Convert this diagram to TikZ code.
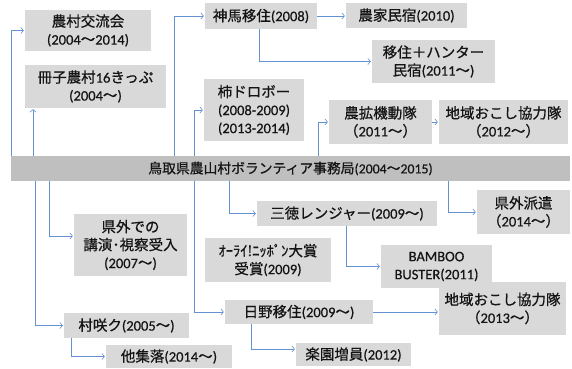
\documentclass[tikz,border=0pt]{standalone}
\usepackage{fontspec}
\setmainfont{Noto Sans CJK JP}[AutoFakeBold=0.7]
\newfontfamily\latf{Carlito}[AutoFakeBold=0.5]
\newcommand\lt[1]{{\latf #1}}
\usetikzlibrary{arrows.meta}
\definecolor{boxgray}{RGB}{217,217,217}
\definecolor{bargray}{RGB}{191,191,191}
\definecolor{linkblue}{RGB}{100,145,210}
\definecolor{txt}{RGB}{20,20,20}
\tikzset{
  box/.style={fill=boxgray, draw=none, inner sep=0pt, align=center, text=txt,
    font=\fontsize{14.5}{18}\selectfont\bfseries},
  bar/.style={fill=bargray, draw=none, inner sep=0pt, align=center, text=txt,
    font=\fontsize{13.8}{18}\selectfont\bfseries},
  con/.style={draw=linkblue, line width=0.8pt,
    -{Straight Barb[length=2.5pt,width=6pt,line width=0.6pt]}, shorten >=1pt}
}
\begin{document}
\begin{tikzpicture}[x=1pt,y=-1pt]
\useasboundingbox (0,0) rectangle (572,368);
% main bar
\node[bar, minimum width=559, minimum height=25] (bar) at (290.5,168.5)
  {鳥取県農山村ボランティア事務局\lt{(2004}～\lt{2015)}};
% boxes
\node[box, minimum width=126, minimum height=41] (A) at (88,30.5)
  {農村交流会\\\lt{(2004}～\lt{2014)}};
\node[box, minimum width=141, minimum height=43] (B) at (95.5,86.5)
  {冊子農村\lt{16}きっぷ\\\lt{(2004}～\lt{)}};
\node[box, minimum width=112, minimum height=26] (C) at (261,16)
  {神馬移住\lt{(2008)}};
\node[box, minimum width=121, minimum height=25] (D) at (406.5,15.5)
  {農家民宿\lt{(2010)}};
\node[box, minimum width=123, minimum height=43] (E) at (433.5,61.5)
  {移住＋ハンター\\民宿\lt{(2011}～\lt{)}};
\node[box, minimum width=100, minimum height=62] (F) at (254,110)
  {柿ドロボー\\\lt{(2008-2009)}\\\lt{(2013-2014)}};
\node[box, minimum width=103, minimum height=44] (G) at (380.5,122)
  {農拡機動隊\\（\lt{2011}～）};
\node[box, minimum width=129, minimum height=44] (H) at (503.5,122)
  {地域おこし協力隊\\（\lt{2012}～）};
\node[box, minimum width=113, minimum height=62] (I) at (130.5,245)
  {県外での\\講演･視察受入\\\lt{(2007}～\lt{)}};
\node[box, minimum width=180, minimum height=25] (J) at (347,213.5)
  {三徳レンジャー\lt{(2009}～\lt{)}};
\node[box, minimum width=93, minimum height=44] (K) at (523.5,212)
  {県外派遣\\（\lt{2014}～）};
\node[box, minimum width=126, minimum height=44] (L) at (268,260)
  {ｵｰﾗｲ!ﾆｯﾎﾟﾝ大賞\\受賞\lt{(2009)}};
\node[box, minimum width=111, minimum height=43] (M) at (436.5,266.5)
  {\lt{BAMBOO}\\\lt{BUSTER(2011)}};
\node[box, minimum width=148, minimum height=24] (N) at (299,312)
  {日野移住\lt{(2009}～\lt{)}};
\node[box, minimum width=127, minimum height=53] (O) at (502.5,308.5)
  {地域おこし協力隊\\（\lt{2013}～）};
\node[box, minimum width=125, minimum height=25] (P) at (126.5,325.5)
  {村咲ク\lt{(2005}～\lt{)}};
\node[box, minimum width=126, minimum height=23] (Q) at (169,356.5)
  {他集落\lt{(2014}～\lt{)}};
\node[box, minimum width=115, minimum height=23] (R) at (353.5,354.5)
  {楽園増員\lt{(2012)}};
% bend coordinates
\coordinate (b1) at (33,0);
\coordinate (c1) at (174,0);
\coordinate (f1) at (194,0);
\coordinate (g1) at (318,0);
\coordinate (e1) at (259,0);
\coordinate (p1) at (35,0);
\coordinate (i1) at (49,236);
\coordinate (j1) at (229,0);
\coordinate (k1) at (448,0);
\coordinate (m1) at (346,0);
\coordinate (r1) at (251,349);
\coordinate (q1) at (71,0);
% connectors above the bar
\draw[con] ([xshift=1pt]bar.north west) |- (A.west);
\draw[con] (b1 |- bar.north) -- (b1 |- B.south);
\draw[con] (c1 |- bar.north) |- (C.west);
\draw[con] (f1 |- bar.north) |- (F.west);
\draw[con] (g1 |- bar.north) |- (G.west);
\draw[con] (G.east) -- (H.west);
\draw[con] (C.east) -- (D.west |- C.east);
\draw[con] (e1 |- C.south) |- (E.west);
% connectors below the bar
\draw[con] (p1 |- bar.south) |- (P.west);
\draw[con] (i1 |- bar.south) |- (I.west |- i1);
\draw[con] (j1 |- bar.south) |- (J.west);
\draw[con] (k1 |- bar.south) |- (K.west);
\draw[con] (f1 |- bar.south) |- (N.west);
\draw[con] (m1 |- J.south) |- (M.west);
\draw[con] (N.east) -- (N.east -| O.west);
\draw[con] (r1 |- N.south) |- (R.west |- r1);
\draw[con] (q1 |- P.south) |- (Q.west);
\end{tikzpicture}
\end{document}
